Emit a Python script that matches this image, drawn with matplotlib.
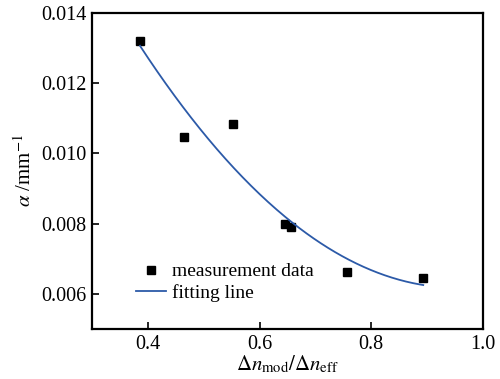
import numpy as np
import matplotlib
matplotlib.use("Agg")
import matplotlib.pyplot as plt

plt.rcParams['font.family'] = ['Liberation Serif', 'DejaVu Serif']
plt.rcParams['mathtext.fontset'] = 'stix'

x_data = [0.386, 0.464, 0.552, 0.645, 0.657, 0.757, 0.893]
y_data = [0.01319, 0.01047, 0.01084, 0.00800, 0.00789, 0.00661, 0.00644]

coef = np.polyfit(x_data, y_data, 2)
x_fit = np.linspace(min(x_data), max(x_data), 200)
y_fit = np.polyval(coef, x_fit)

fig = plt.figure(figsize=(5.0, 3.79), dpi=100)
ax = fig.add_axes([92/500, 1-329/379, (483-92)/500, (329-12.5)/379])

ax.plot(x_data, y_data, 's', color='black', markersize=5.5, label='measurement data')
ax.plot(x_fit, y_fit, '-', color='#2c5aa8', lw=1.3, label='fitting line')

ax.set_xlim(0.3, 1.0)
ax.set_ylim(0.005, 0.014)
ax.set_xticks([0.4, 0.6, 0.8, 1.0])
ax.set_xticklabels(['0.4', '0.6', '0.8', '1.0'])
ax.set_yticks([0.006, 0.008, 0.010, 0.012, 0.014])
ax.set_yticklabels(['0.006', '0.008', '0.010', '0.012', '0.014'])
ax.tick_params(direction='in', length=5, width=1.2, labelsize=14.5, top=False, right=False, pad=4)
for s in ax.spines.values():
    s.set_linewidth(1.6)

ax.set_xlabel(r'$\Delta n_{\rm mod}/\Delta n_{\rm eff}$', fontsize=15, labelpad=0)
ax.set_ylabel(r'$\alpha$ /mm$^{-1}$', fontsize=15, labelpad=4)

ax.legend(loc='lower left', bbox_to_anchor=(0.077, 0.043), frameon=False, fontsize=14,
          handlelength=1.55, handletextpad=0.3, labelspacing=0.18, borderaxespad=0.3)

fig.savefig('out.png', dpi=100)
